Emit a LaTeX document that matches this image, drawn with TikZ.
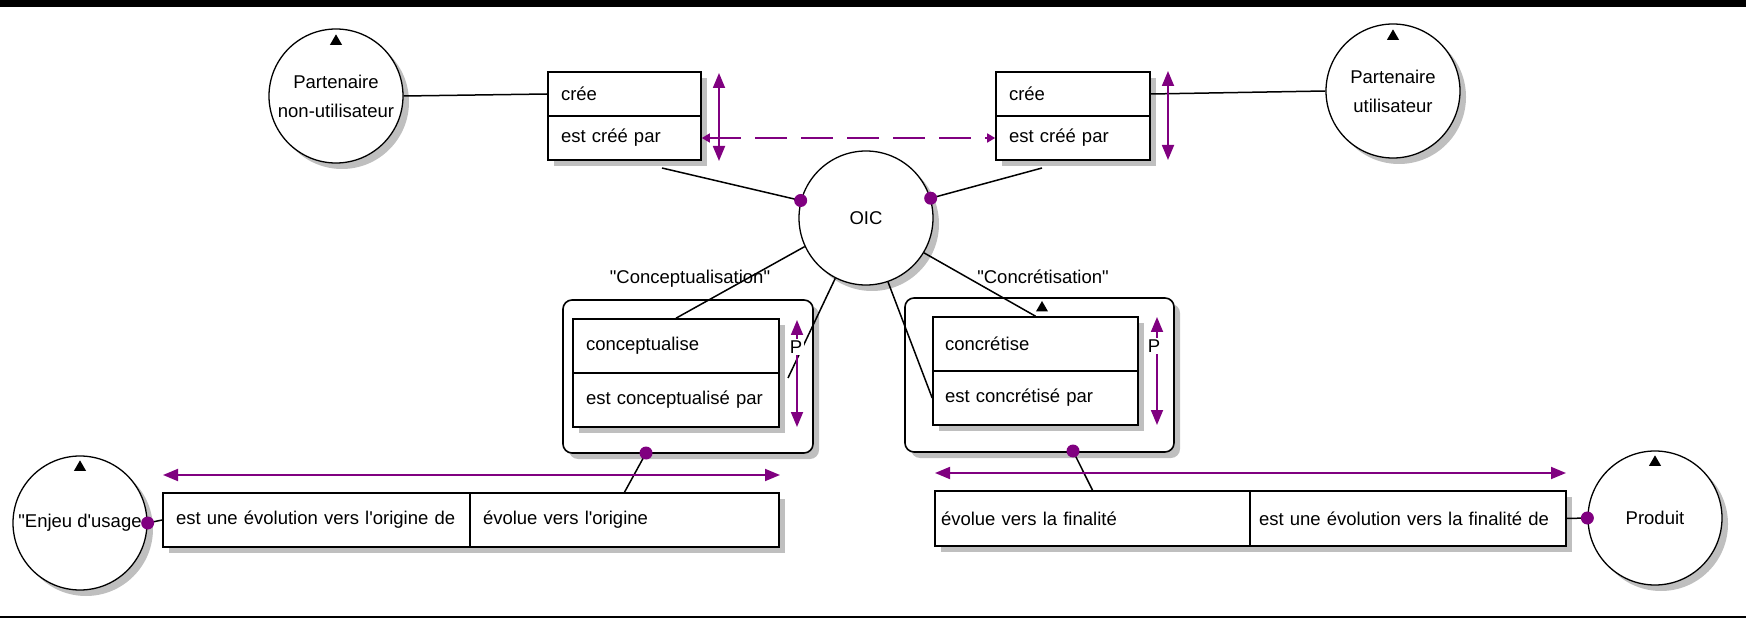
\documentclass[tikz,border=0pt]{standalone}
\usepackage{fontspec}
\setmainfont{Liberation Sans}
\usetikzlibrary{arrows.meta,shapes.geometric,shadows}
\definecolor{pourpre}{RGB}{128,0,128}
\tikzset{
  ombre/.style={drop shadow={shadow xshift=6pt,shadow yshift=-6pt,fill=black!25,opacity=1}},
  rond/.style={circle,draw,line width=1.3pt,fill=white,minimum size=134pt,inner sep=0pt,align=center,ombre},
  case/.style={rectangle,draw,line width=1.6pt,fill=white,inner xsep=13pt,inner ysep=0pt,align=left,ombre},
  cadre/.style={rectangle,rounded corners=9pt,draw,line width=1.6pt,fill=white,ombre},
  lien/.style={line width=1.5pt},
  fleche/.style={pourpre,line width=1.8pt,{Triangle[length=15pt,width=12pt]}-{Triangle[length=15pt,width=12pt]}},
  point/.style={circle,fill=pourpre,inner sep=0pt,minimum size=13pt},
  tri/.style={regular polygon,regular polygon sides=3,fill=black,inner sep=0pt,minimum size=14pt},
}
\begin{document}
\begin{tikzpicture}[x=1pt,y=-1pt,font=\fontsize{18.5}{29}\selectfont]
    \useasboundingbox (0,0) rectangle (1746,620);
    % bords
    \fill (0,0) rectangle (1746,7);
    \draw[line width=2pt] (0,617) -- (1746,617);

    % cadres
    \node[cadre,minimum width=250pt,minimum height=153pt] (cadreG) at (688,376.5) {};
    \node[cadre,minimum width=269pt,minimum height=154pt] (cadreD) at (1039.5,375) {};

    % cases du haut
    \node[case,text width=127pt,minimum height=44pt] (creeGa) at (624.5,94) {crée};
    \node[case,text width=127pt,minimum height=44pt] (creeGb) at (624.5,138) {est créé par};
    \node[case,text width=128pt,minimum height=44pt] (creeDa) at (1073,94) {crée};
    \node[case,text width=128pt,minimum height=44pt] (creeDb) at (1073,138) {est créé par};

    % cases des cadres
    \node[case,text width=180pt,minimum height=54pt] (conGa) at (676,346) {conceptualise};
    \node[case,text width=180pt,minimum height=54pt] (conGb) at (676,400) {est conceptualisé par};
    \node[case,inner xsep=12pt,text width=181pt,minimum height=54pt] (conDa) at (1035.5,344) {concrétise};
    \node[case,inner xsep=12pt,text width=181pt,minimum height=54pt] (conDb) at (1035.5,398) {est concrétisé par};

    % cases du bas
    \node[case,text width=281pt,minimum height=54pt] (evoGa) at (316.5,520) {est une évolution vers l\textquotesingle origine de};
    \node[case,text width=283pt,minimum height=54pt] (evoGb) at (624.5,520) {évolue vers l\textquotesingle origine};
    \node[case,inner xsep=6pt,text width=303pt,minimum height=55pt] (evoDa) at (1092.5,518.5) {évolue vers la finalité};
    \node[case,inner xsep=9pt,text width=298pt,minimum height=55pt] (evoDb) at (1408,518.5) {est une évolution vers la finalité de};

    % ronds
    \node[rond] (pnu) at (336,96) {Partenaire\\non-utilisateur};
    \node[rond] (pu) at (1393,91) {Partenaire\\utilisateur};
    \node[rond] (oic) at (866,218) {OIC};
    \node[rond] (enjeu) at (80,523) {\textquotedbl Enjeu d\textquotesingle usage};
    \node[rond] (produit) at (1655,518) {Produit};

    % liens
    \coordinate (sousG) at (662,168);
    \coordinate (sousD) at (1042,168);
    \coordinate (finG) at (788,378);
    \coordinate (pG) at (646,453);
    \coordinate (pD) at (1073,451);
    \draw[lien] (pnu.east) -- (creeGa.west);
    \draw[lien] (creeDa.east) -- (pu.west);
    \draw[lien] (sousG) -- (oic.165);
    \draw[lien] (sousD) -- (oic.17);
    \draw[lien] (oic.205) -- (conGa.north);
    \draw[lien] (oic.243) -- (finG);
    \draw[lien] (oic.289) -- (conDb.west);
    \draw[lien] (oic.329) -- (conDa.north);
    \draw[lien] (pG) -- (evoGb.north);
    \draw[lien] (pD) -- (evoDa.north);
    \draw[lien] (enjeu.east) -- (evoGa.west);
    \draw[lien] (evoDb.east) -- (produit.west);

    % pointilles
    \draw[pourpre,line width=1.6pt,dash pattern=on 32pt off 14pt,{Triangle[length=8pt,width=9pt]}-{Triangle[length=8pt,width=9pt]}] (creeGb.east) -- (creeDb.west);

    % points
    \node[point] at (oic.165) {};
    \node[point] at (oic.17) {};
    \node[point] at (pG) {};
    \node[point] at (pD) {};
    \node[point] at (enjeu.east) {};
    \node[point] at (produit.west) {};

    % fleches
    \draw[fleche] (719,73) -- (719,161);
    \draw[fleche] (1168,71) -- (1168,160);
    \draw[fleche] (797,320) -- (797,427);
    \draw[fleche] (1157,317) -- (1157,425);
    \draw[fleche] (163,475) -- (780,475);
    \draw[fleche] (935,473) -- (1566,473);
    \node[fill=white,inner sep=1.5pt] (pG1) at (796,347) {P};
    \node[fill=white,inner sep=1.5pt] (pD1) at (1154,346) {P};

    % triangles
    \node[tri] at ([yshift=-13pt]pnu.north) {};
    \node[tri] at ([yshift=-13pt]pu.north) {};
    \node[tri] at ([yshift=-12pt]enjeu.north) {};
    \node[tri] at ([yshift=-12pt]produit.north) {};
    \node[tri] at (1042,308) {};

    % etiquettes
    \node (conc) at (690,279) {\textquotedbl Conceptualisation\textquotedbl};
    \node (concr) at (1043,277) {\textquotedbl Concrétisation\textquotedbl};
\end{tikzpicture}
\end{document}
